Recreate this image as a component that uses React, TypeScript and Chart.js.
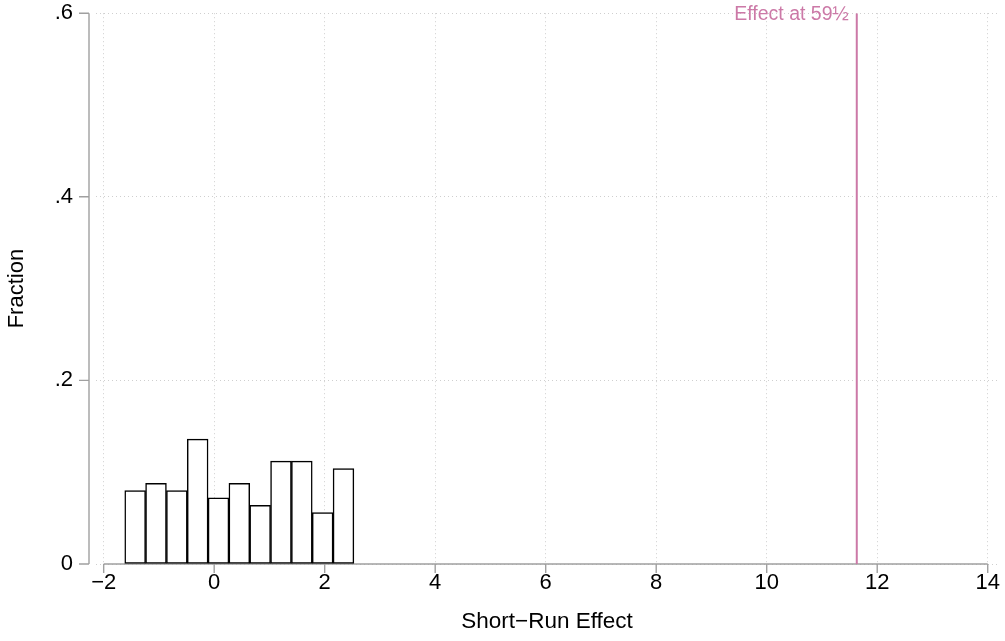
import React, { useEffect, useRef } from "react";
import { Chart, registerables } from "chart.js";

Chart.register(...registerables);

// Histogram bins (centres) and bar heights (fraction)
const binCenters = [-1.43, -1.053, -0.676, -0.299, 0.078, 0.455, 0.832, 1.209, 1.586, 1.963, 2.34];
const fractions = [0.08, 0.088, 0.08, 0.136, 0.072, 0.088, 0.064, 0.112, 0.112, 0.056, 0.104];

// Reference line
const effectAt59 = 11.63;
const effectLabel = "Effect at 59½";

// Axes
const xTickValues = [-2, 0, 2, 4, 6, 8, 10, 12, 14];
const xTickLabels = ["−2", "0", "2", "4", "6", "8", "10", "12", "14"];
const yTickValues = [0, 0.2, 0.4, 0.6];
const yTickLabels = ["0", ".2", ".4", ".6"];
const xTitle = "Short−Run Effect";
const yTitle = "Fraction";

const FONT = "'Liberation Sans', Arial, Helvetica, sans-serif";
const PINK = "#CC79A7";
const AXIS = "#a0a0a0";

const axesPlugin = {
  id: "stataAxes",
  beforeDatasetsDraw(chart: any) {
    const { ctx, chartArea } = chart;
    const xs = chart.scales.x;
    const ys = chart.scales.y;
    ctx.save();
    ctx.strokeStyle = AXIS;
    ctx.lineWidth = 1.4;
    // y axis line (offset left of plot region)
    const yx = chartArea.left - 7;
    const yTop = ys.getPixelForValue(yTickValues[yTickValues.length - 1]);
    const yBot = ys.getPixelForValue(yTickValues[0]);
    ctx.beginPath();
    ctx.moveTo(yx, yTop);
    ctx.lineTo(yx, yBot);
    yTickValues.forEach((v) => {
      const p = ys.getPixelForValue(v);
      ctx.moveTo(yx, p);
      ctx.lineTo(yx - 10, p);
    });
    ctx.stroke();
    // x axis line
    const xl = xs.getPixelForValue(xTickValues[0]);
    const xr = xs.getPixelForValue(xTickValues[xTickValues.length - 1]);
    const by = ys.getPixelForValue(0);
    ctx.beginPath();
    ctx.moveTo(xl, by);
    ctx.lineTo(xr, by);
    xTickValues.forEach((v) => {
      const p = xs.getPixelForValue(v);
      ctx.moveTo(p, by);
      ctx.lineTo(p, by + 9);
    });
    ctx.stroke();
    ctx.restore();
  },
  afterDatasetsDraw(chart: any) {
    const { ctx } = chart;
    const xs = chart.scales.x;
    const ys = chart.scales.y;
    ctx.save();
    ctx.fillStyle = PINK;
    ctx.font = `19.5px ${FONT}`;
    ctx.textAlign = "right";
    ctx.textBaseline = "middle";
    ctx.fillText(effectLabel, xs.getPixelForValue(effectAt59) - 8, ys.getPixelForValue(0.6) + 1);
    ctx.restore();
  },
};

export default function App() {
  const ref = useRef<HTMLCanvasElement | null>(null);

  useEffect(() => {
    if (!ref.current) return;
    const chart = new Chart(ref.current, {
      type: "bar",
      data: {
        datasets: [
          {
            type: "bar",
            data: binCenters.map((x, i) => ({ x, y: fractions[i] })),
            backgroundColor: "#ffffff",
            borderColor: "#000000",
            borderWidth: 1.5,
            borderSkipped: false,
            barPercentage: 1,
            categoryPercentage: 1,
            order: 2,
          } as any,
          {
            type: "line",
            data: [
              { x: effectAt59, y: 0 },
              { x: effectAt59, y: 0.6 },
            ],
            borderColor: PINK,
            borderWidth: 2,
            pointRadius: 0,
            fill: false,
            order: 1,
          } as any,
        ],
      },
      options: {
        animation: false,
        responsive: false,
        layout: { padding: { top: 13, right: 7, left: 0, bottom: 0 } },
        plugins: { legend: { display: false }, tooltip: { enabled: false } },
        scales: {
          x: {
            type: "linear",
            offset: false,
            min: -2.139,
            max: 14.186,
            afterBuildTicks: (s: any) => {
              s.ticks = xTickValues.map((value) => ({ value }));
            },
            afterFit: (s: any) => {
              s.height = 77;
            },
            ticks: {
              callback: (_v: any, i: number) => xTickLabels[i],
              font: { family: FONT, size: 22 },
              color: "#000",
              padding: 0,
              maxRotation: 0,
              autoSkip: false,
            },
            grid: {
              offset: false,
              color: "#cfcfcf",
              lineWidth: 1,
              drawTicks: true,
              tickLength: 6,
              tickColor: "rgba(0,0,0,0)",
            },
            border: { display: false, dash: [1, 3] },
            title: {
              display: true,
              text: xTitle,
              font: { family: FONT, size: 22.5 },
              color: "#000",
              padding: { top: 0, bottom: 6 },
            },
          },
          y: {
            type: "linear",
            min: 0,
            max: 0.6,
            afterBuildTicks: (s: any) => {
              s.ticks = yTickValues.map((value) => ({ value }));
            },
            afterFit: (s: any) => {
              s.width = 96;
            },
            ticks: {
              callback: (_v: any, i: number) => yTickLabels[i],
              font: { family: FONT, size: 22 },
              color: "#000",
              padding: 0,
            },
            grid: {
              offset: false,
              color: "#cfcfcf",
              lineWidth: 1,
              drawTicks: true,
              tickLength: 23,
              tickColor: "rgba(0,0,0,0)",
            },
            border: { display: false, dash: [1, 3] },
            title: {
              display: true,
              text: yTitle,
              font: { family: FONT, size: 22 },
              color: "#000",
              padding: { top: 4, bottom: 0 },
            },
          },
        },
      } as any,
      plugins: [axesPlugin],
    });
    return () => chart.destroy();
  }, []);

  return (
    <div style={{ position: "absolute", left: 0, top: 0, width: 1005, height: 641, background: "#fff" }}>
      <canvas ref={ref} width={1005} height={641} style={{ display: "block" }} />
    </div>
  );
}
